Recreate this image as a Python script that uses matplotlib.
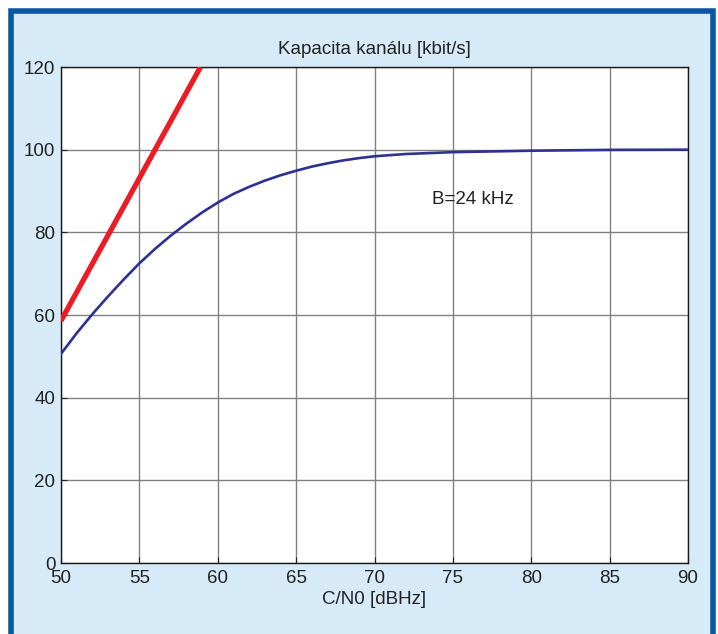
import matplotlib
matplotlib.use("Agg")
import matplotlib.pyplot as plt
from matplotlib.patches import Rectangle

plt.rcParams['font.family'] = ['Liberation Sans', 'DejaVu Sans']

# Data
cn0_blue = [50, 51, 52, 53, 54, 55, 56, 57, 58, 59, 60, 61, 62, 63, 64, 65,
            66, 67, 68, 69, 70, 72, 75, 80, 85, 90]
cap_blue = [50.6, 55.6, 60.2, 64.5, 68.6, 72.5, 76.0, 79.2, 82.1, 84.8, 87.2, 89.3, 91.0,
            92.5, 93.8, 94.9, 95.9, 96.7, 97.4, 97.95, 98.4, 98.95, 99.4, 99.75, 99.95, 100.0]
cn0_red = [50, 58.9]
cap_red = [58.6, 120]
title = "Kapacita kanálu [kbit/s]"
xlabel = "C/N0 [dBHz]"
annot = "B=24 kHz"
xticks = [50, 55, 60, 65, 70, 75, 80, 85, 90]
yticks = [0, 20, 40, 60, 80, 100, 120]

W, H = 718, 634
fig = plt.figure(figsize=(W / 100, H / 100), dpi=100)
fig.patch.set_facecolor('white')

# background panel with blue border
bg = Rectangle((10.5 / W, -0.05), (712.5 - 10.5) / W, (H - 10.5) / H + 0.05,
               transform=fig.transFigure, facecolor='#d6eaf8', edgecolor='#0b57a4',
               linewidth=4, zorder=-10)
fig.patches.append(bg)

ax = fig.add_axes([61 / W, 1 - 563 / H, (688 - 61) / W, (563 - 67) / H])
ax.set_zorder(1)
ax.set_facecolor('white')

ax.plot(cn0_red, cap_red, color='#ed1c24', linewidth=3.8, solid_capstyle='butt', zorder=3)
ax.plot(cn0_blue, cap_blue, color='#2e3192', linewidth=1.9, zorder=3)

ax.set_xlim(50, 90)
ax.set_ylim(0, 120)
ax.set_xticks(xticks)
ax.set_yticks(yticks)
ax.grid(True, color='#808080', linewidth=1.0)
ax.set_axisbelow(True)
ax.tick_params(direction='in', length=4, labelsize=13.5, colors='#222222', pad=4)
ax.tick_params(axis='x', pad=5)
for s in ax.spines.values():
    s.set_color('#1a1a1a')
    s.set_linewidth(1.0)

ax.set_title(title, fontsize=13.5, color='#222222', pad=9)
ax.set_xlabel(xlabel, fontsize=13.5, color='#222222', labelpad=3)
ax.text(73.7, 88.0, annot, fontsize=13.5, color='#222222', ha='left', va='center')

fig.savefig('out.png', dpi=100, facecolor=fig.get_facecolor())
